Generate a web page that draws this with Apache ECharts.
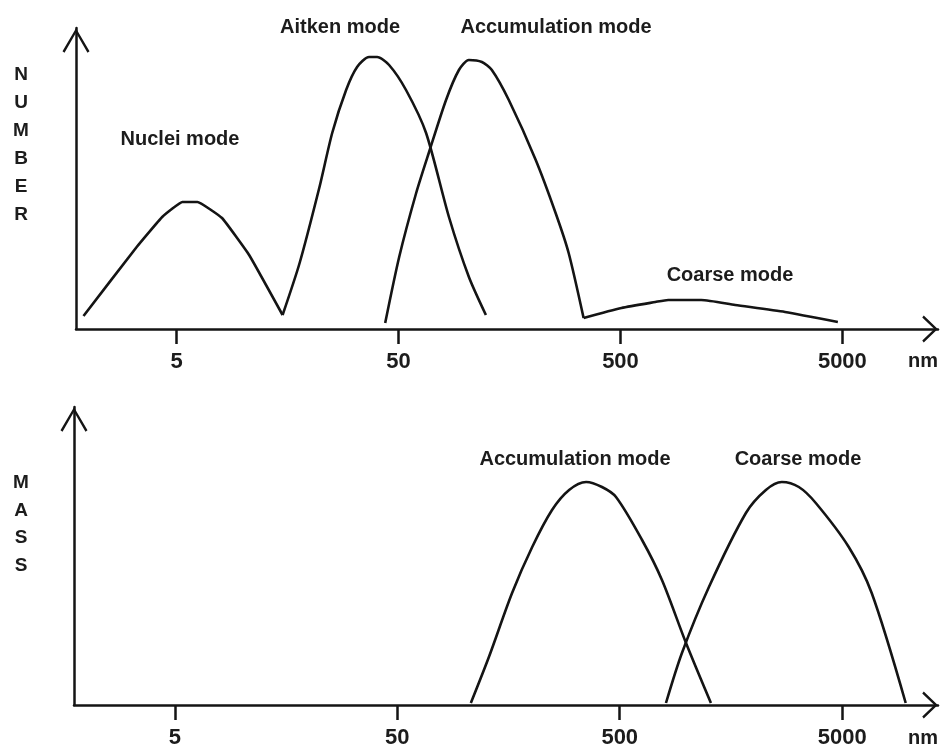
<!DOCTYPE html>
<html>
<head>
<meta charset="utf-8">
<script src="https://cdn.jsdelivr.net/npm/echarts@6/dist/echarts.min.js"></script>
<style>
  html, body { margin: 0; padding: 0; background: #fff; }
  #chart { width: 941px; height: 748px; }
</style>
</head>
<body>
<div id="chart"></div>
<script>
// particle diameter ticks (nm), log axis
const tickNm = [5, 50, 500, 5000]

// NUMBER panel: diameters (nm) and heights (arbitrary units)
const nucleiNm = [1.9, 3.3, 4.3, 5.3, 6.2, 8.0, 10.6, 15.0]
const nucleiNum = [13, 82, 112, 127, 127, 111, 74, 14]
const aitkenNm = [15.0, 17.9, 22.0, 25.1, 29.0, 32.5, 36.8, 40.0, 45.3, 54.0, 66.5, 84.3, 103.7, 123.7]
const aitkenNum = [14, 66, 142, 196, 239, 262, 272, 272, 264, 239, 196, 112, 52, 14]
const accumNm = [43.5, 50.3, 60.0, 68.6, 81.8, 93.5, 103.7, 118.7, 131.6, 156.9, 207.5, 255, 292, 341]
const accumNum = [6, 72, 136, 177, 229, 259, 269, 267, 259, 229, 169, 116, 76, 11]
const coarseNm = [341, 505, 718, 821, 1156, 1644, 2758, 4772]
const coarseNum = [11, 21, 27, 29, 29, 24, 17, 7]

// MASS panel
const accumMassNm = [107, 129, 164, 202, 248, 296, 353, 416, 481, 630, 774, 993, 1285]
const accumMass = [2, 48, 112, 158, 195, 215, 223, 218, 208, 165, 125, 62, 2]
const coarseMassNm = [807, 952, 1259, 1846, 2270, 2678, 3193, 3806, 5354, 6790, 9655]
const coarseMass = [2, 52, 118, 192, 215, 223, 218, 202, 158, 112, 2]

const ink = '#141414'
const font = 'Liberation Sans'
// open chevron arrow heads (pointing up, rotated by echarts)
const yArrow = 'path://M0,23 L13.5,0 L27,23 L25,24.5 L13.5,4.5 L2,24.5 Z'
const xArrow = 'path://M0,14 L13.5,0 L27,14 L25,15.5 L13.5,3.5 L2,15.5 Z'

const toPts = (nm, v) => nm.map((d, i) => [Math.log10(d), v[i]])

function xAxisFor(gridIndex) {
  return {
    type: 'value',
    gridIndex,
    min: 0.245,
    max: 4.13,
    splitLine: { show: false },
    axisLine: {
      lineStyle: { color: ink, width: 2.5 },
      symbol: ['none', xArrow],
      symbolSize: [27, 16],
      symbolOffset: [0, -8]
    },
    axisTick: {
      customValues: tickNm.map(v => Math.log10(v)),
      length: 15,
      lineStyle: { color: ink, width: 2.5 }
    },
    axisLabel: {
      customValues: tickNm.map(v => Math.log10(v)),
      formatter: v => String(Math.round(Math.pow(10, v))),
      margin: 22,
      color: '#1c1c1c',
      fontFamily: font,
      fontWeight: 'bold',
      fontSize: 22
    }
  }
}

function yAxisFor(gridIndex, max) {
  return {
    type: 'value',
    gridIndex,
    min: 0,
    max,
    splitLine: { show: false },
    axisTick: { show: false },
    axisLabel: { show: false },
    axisLine: {
      show: true,
      lineStyle: { color: ink, width: 2.5 },
      symbol: ['none', yArrow],
      symbolSize: [27, 25],
      symbolOffset: [0, -12.5]
    }
  }
}

function curve(name, nm, v, idx, smooth) {
  return {
    name,
    type: 'line',
    xAxisIndex: idx,
    yAxisIndex: idx,
    data: toPts(nm, v),
    showSymbol: false,
    smooth,
    lineStyle: { color: ink, width: 2.6 },
    z: 3
  }
}

function label(text, x, y, size) {
  return {
    type: 'text',
    x, y,
    style: {
      text,
      fill: '#1c1c1c',
      font: 'bold ' + (size || 20) + 'px "' + font + '"',
      textAlign: 'center',
      textVerticalAlign: 'middle'
    }
  }
}

function vertical(text, x, yTop, step) {
  return {
    type: 'text',
    x, y: yTop,
    style: {
      text: text.split('').join('\n'),
      fill: '#1c1c1c',
      font: 'bold 19px "' + font + '"',
      lineHeight: step,
      textAlign: 'center',
      textVerticalAlign: 'top'
    }
  }
}

const chart = echarts.init(document.getElementById('chart'))
chart.setOption({
  animation: false,
  backgroundColor: '#fff',
  grid: [
    { left: 76, right: 3, top: 28, height: 301, outerBoundsMode: 'none' },
    { left: 74, right: 3, top: 407, height: 298, outerBoundsMode: 'none' }
  ],
  xAxis: [xAxisFor(0), xAxisFor(1)],
  yAxis: [yAxisFor(0, 301), yAxisFor(1, 298)],
  series: [
    curve('Nuclei mode', nucleiNm, nucleiNum, 0, 0.1),
    curve('Aitken mode', aitkenNm, aitkenNum, 0, 0.25),
    curve('Accumulation mode', accumNm, accumNum, 0, 0.25),
    curve('Coarse mode', coarseNm, coarseNum, 0, 0.2),
    curve('Accumulation mode', accumMassNm, accumMass, 1, 0.3),
    curve('Coarse mode', coarseMassNm, coarseMass, 1, 0.3)
  ],
  graphic: [
    label('Aitken mode', 340, 27),
    label('Accumulation mode', 556, 27),
    label('Nuclei mode', 180, 139),
    label('Coarse mode', 730, 275),
    label('nm', 923, 361),
    label('Accumulation mode', 575, 459),
    label('Coarse mode', 798, 459),
    label('nm', 923, 738),
    vertical('NUMBER', 21, 61, 28),
    vertical('MASS', 21, 469, 27.7)
  ]
})
</script>
</body>
</html>
